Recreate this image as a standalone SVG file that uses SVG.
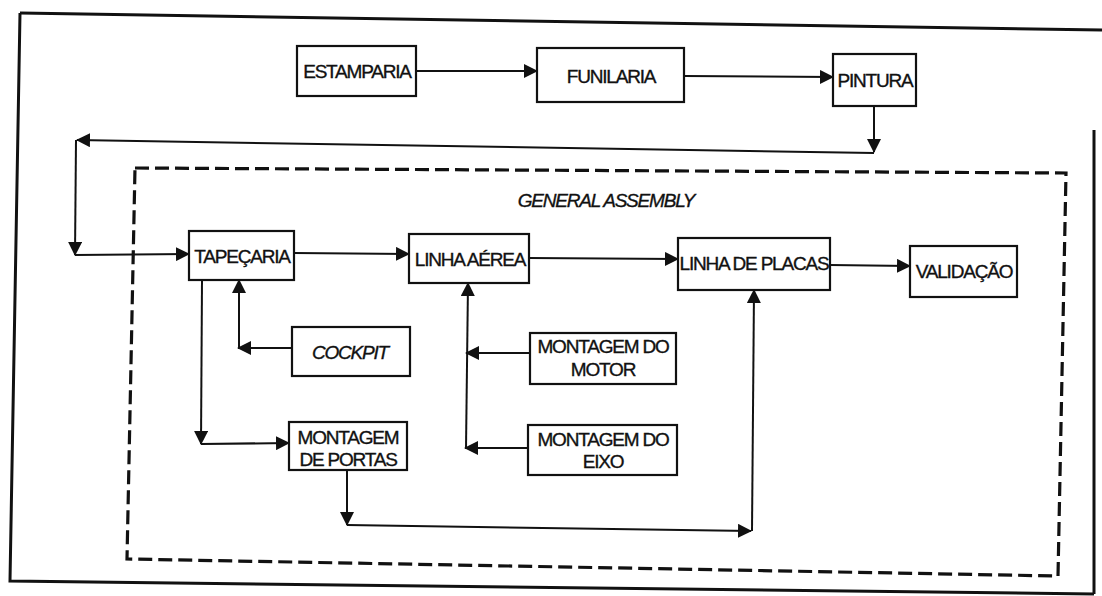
<svg xmlns="http://www.w3.org/2000/svg" width="1102" height="596" viewBox="0 0 1102 596">
<style>
.box{fill:#fff;stroke:#111;stroke-width:2.2}
.t{font-family:"Liberation Sans",Arial,sans-serif;font-size:19px;letter-spacing:-1.2px;fill:#111;stroke:#111;stroke-width:0.35;text-anchor:middle}
.i{font-style:italic}
.c{fill:none;stroke:#111;stroke-width:2}
.frame{fill:none;stroke:#111;stroke-width:3}
.dash{fill:none;stroke:#111;stroke-width:3.2;stroke-dasharray:14 6}
</style>
<defs>
<marker id="ah" markerUnits="userSpaceOnUse" markerWidth="16" markerHeight="14" refX="13" refY="7" orient="auto">
<path d="M0,0 L14,7 L0,14 Z" fill="#111"/>
</marker>
</defs>
<rect width="1102" height="596" fill="#fff"/>
<g id="frame">
<path class="frame" d="M20,13 L1102,30"/>
<path class="frame" d="M20,13 L10,581 L1094,594"/>
<path class="frame" d="M1094,130 L1094,594"/>
</g>
<g id="general-assembly">
<path class="dash" d="M135,168 L1066,173 L1058,576 L127,559 Z"/>
<text class="t i" x="606" y="207">GENERAL ASSEMBLY</text>
</g>
<g id="connectors">
<path class="c" d="M416,71 L537,71" marker-end="url(#ah)"/>
<path class="c" d="M684,76 L833,77" marker-end="url(#ah)"/>
<path class="c" d="M874,106 L874,152" marker-end="url(#ah)"/>
<path class="c" d="M874,153 L77,140" marker-end="url(#ah)"/>
<path class="c" d="M76,140 L75,255" marker-end="url(#ah)"/>
<path class="c" d="M75,255 L189,254" marker-end="url(#ah)"/>
<path class="c" d="M294,253 L409,254" marker-end="url(#ah)"/>
<path class="c" d="M529,258 L678,259" marker-end="url(#ah)"/>
<path class="c" d="M830,265 L910,266" marker-end="url(#ah)"/>
<path class="c" d="M292,348 L238,348" marker-end="url(#ah)"/>
<path class="c" d="M239,348 L239,280" marker-end="url(#ah)"/>
<path class="c" d="M202,280 L201,444" marker-end="url(#ah)"/>
<path class="c" d="M201,444 L289,443" marker-end="url(#ah)"/>
<path class="c" d="M530,353 L466,353" marker-end="url(#ah)"/>
<path class="c" d="M528,448 L465,448" marker-end="url(#ah)"/>
<path class="c" d="M466,448 L468,283" marker-end="url(#ah)"/>
<path class="c" d="M347,470 L347,525" marker-end="url(#ah)"/>
<path class="c" d="M347,525 L751,531" marker-end="url(#ah)"/>
<path class="c" d="M752,531 L754,290" marker-end="url(#ah)"/>
</g>
<g id="estamparia"><rect class="box" x="297" y="46" width="119" height="50"/><text class="t" x="357" y="78">ESTAMPARIA</text></g>
<g id="funilaria"><rect class="box" x="537" y="48" width="147" height="54"/><text class="t" x="611" y="83">FUNILARIA</text></g>
<g id="pintura"><rect class="box" x="833" y="54" width="83" height="52"/><text class="t" x="875" y="87">PINTURA</text></g>
<g id="tapecaria"><rect class="box" x="189" y="231" width="105" height="49"/><text class="t" x="242" y="263">TAPEÇARIA</text></g>
<g id="linha-aerea"><rect class="box" x="409" y="234" width="120" height="49"/><text class="t" x="470" y="266">LINHA AÉREA</text></g>
<g id="linha-placas"><rect class="box" x="678" y="238" width="152" height="52"/><text class="t" x="754" y="270">LINHA DE PLACAS</text></g>
<g id="validacao"><rect class="box" x="910" y="246" width="107" height="51"/><text class="t" x="964" y="278">VALIDAÇÃO</text></g>
<g id="cockpit"><rect class="box" x="292" y="327" width="118" height="49"/><text class="t i" x="350" y="359">COCKPIT</text></g>
<g id="motor"><rect class="box" x="530" y="333" width="146" height="51"/><text class="t" x="603" y="353">MONTAGEM DO</text><text class="t" x="603" y="376">MOTOR</text></g>
<g id="portas"><rect class="box" x="289" y="422" width="118" height="48"/><text class="t" x="348" y="444">MONTAGEM</text><text class="t" x="348" y="466">DE PORTAS</text></g>
<g id="eixo"><rect class="box" x="528" y="425" width="149" height="50"/><text class="t" x="603" y="446">MONTAGEM DO</text><text class="t" x="603" y="468">EIXO</text></g>
</svg>
